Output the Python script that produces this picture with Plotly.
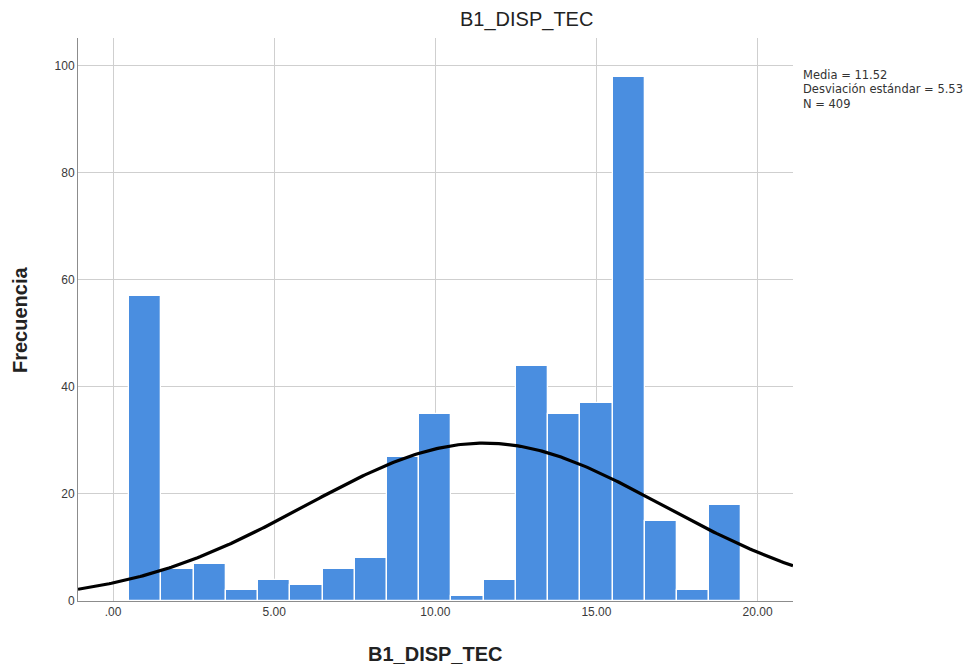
import numpy as np
import plotly.graph_objects as go

# ---- data ----
bin_centers = [1, 2, 3, 4, 5, 6, 7, 8, 9, 10, 11, 12, 13, 14, 15, 16, 17, 18, 19]
frequencies = [57, 6, 7, 2, 4, 3, 6, 8, 27, 35, 1, 4, 44, 35, 37, 98, 15, 2, 18]
x_tick_vals = [0, 5, 10, 15, 20]
x_tick_text = [".00", "5.00", "10.00", "15.00", "20.00"]
y_tick_vals = [0, 20, 40, 60, 80, 100]
y_tick_text = ["0", "20", "40", "60", "80", "100"]
mean_val = 11.52
sd_val = 5.53
n_val = 409
bin_width = 1.0
stats_lines = [f"Media = {mean_val:.2f}", f"Desviación estándar = {sd_val:.2f}", f"N = {n_val}"]

x_range = [-1.09, 21.1]
y_range = [0, 105.2]

# normal curve implied by the reported statistics
xc = np.linspace(x_range[0], x_range[1], 300)
yc = n_val * bin_width / (sd_val * np.sqrt(2 * np.pi)) * np.exp(-0.5 * ((xc - mean_val) / sd_val) ** 2)

# page body has an 8px margin; figure coordinates are offset accordingly
OFF = 8
W, H = 978 - OFF, 671 - OFF
L, R, T, B = 78 - OFF, 793 - OFF, 38 - OFF, 601 - OFF

fig = go.Figure()
fig.add_trace(go.Bar(
    x=bin_centers, y=frequencies, width=bin_width,
    marker=dict(color="#4a8ee0", line=dict(color="#ffffff", width=1.3)),
    hoverinfo="x+y", showlegend=False,
))
fig.add_trace(go.Scatter(
    x=xc, y=yc, mode="lines", line=dict(color="#000000", width=3.2),
    hoverinfo="skip", showlegend=False,
))

font_fam = "Liberation Sans, Arial, sans-serif"
fig.update_layout(
    width=W, height=H,
    margin=dict(l=L, r=W - R, t=T, b=H - B, pad=0),
    paper_bgcolor="white", plot_bgcolor="white",
    font=dict(family=font_fam, color="#333333"),
    bargap=0,
    xaxis=dict(
        range=x_range, tickmode="array", tickvals=x_tick_vals, ticktext=x_tick_text,
        showgrid=True, gridcolor="#cfcfcf", gridwidth=1,
        showline=True, linecolor="#8c8c8c", linewidth=1,
        zeroline=False, ticks="", tickfont=dict(size=12, color="#3a3a3a"),
        fixedrange=True,
    ),
    yaxis=dict(
        range=y_range, tickmode="array", tickvals=y_tick_vals, ticktext=y_tick_text,
        showgrid=True, gridcolor="#cfcfcf", gridwidth=1,
        showline=True, linecolor="#8c8c8c", linewidth=1,
        zeroline=False, ticks="", tickfont=dict(size=12, color="#3a3a3a"),
        fixedrange=True,
    ),
)

pw, ph = R - L, B - T
def px(xp):
    return (xp - OFF - L) / pw
def py(yp):
    return (B - (yp - OFF)) / ph

fig.add_annotation(text="B1_DISP_TEC", xref="paper", yref="paper",
                   x=px(526), y=py(20), xanchor="center", yanchor="middle",
                   showarrow=False, font=dict(size=20, color="#222222", family=font_fam))
fig.add_annotation(text="<b>B1_DISP_TEC</b>", xref="paper", yref="paper",
                   x=px(435), y=py(654), xanchor="center", yanchor="middle",
                   showarrow=False, font=dict(size=20, color="#222222", family=font_fam))
fig.add_annotation(text="<b>Frecuencia</b>", xref="paper", yref="paper",
                   x=px(20), y=py(320), xanchor="center", yanchor="middle", textangle=-90,
                   showarrow=False, font=dict(size=20, color="#222222", family=font_fam))
for i, line in enumerate(stats_lines):
    fig.add_annotation(
        text=line, xref="paper", yref="paper", x=px(801), y=py(75 + 14.5 * i),
        xanchor="left", yanchor="middle", align="left", showarrow=False,
        font=dict(size=11.5, color="#333333", family="DejaVu Sans, sans-serif"))

fig.write_html("out.html")
